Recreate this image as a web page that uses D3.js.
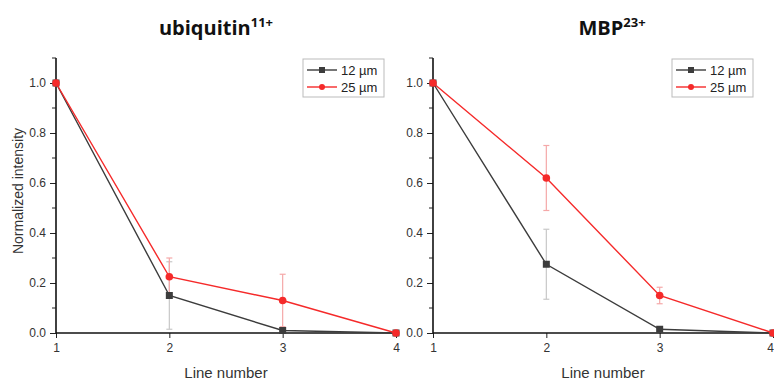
<!DOCTYPE html>
<html><head><meta charset="utf-8">
<script src="https://cdn.jsdelivr.net/npm/d3@7/dist/d3.min.js"></script>
<style>body{margin:0;background:#fff}</style>
</head><body>
<svg id="c" width="774" height="380"></svg>
<script>
const lines = [1, 2, 3, 4];
const yTicks = [0, 0.2, 0.4, 0.6, 0.8, 1.0];
const seriesNames = ["12 µm", "25 µm"];
const ubi12 = [1, 0.15, 0.01, 0];
const ubi12Err = [0, 0.135, 0.006, 0];
const ubi25 = [1, 0.225, 0.13, 0];
const ubi25Err = [0, 0.075, 0.105, 0];
const mbp12 = [1, 0.275, 0.015, 0];
const mbp12Err = [0, 0.14, 0.008, 0];
const mbp25 = [1, 0.62, 0.15, 0];
const mbp25Err = [0, 0.13, 0.033, 0];

const panels = [
  {title: "ubiquitin", sup: "11+", x0: 56, x1: 396, tx: 216, s12: ubi12, e12: ubi12Err, s25: ubi25, e25: ubi25Err, leg: 303, ylabel: true, lx: 226},
  {title: "MBP", sup: "23+", x0: 433, x1: 773, tx: 612, s12: mbp12, e12: mbp12Err, s25: mbp25, e25: mbp25Err, leg: 672, ylabel: false, lx: 603}
];
const svg = d3.select("#c");
const colors = {g: "#3c3c3c", r: "#f52a2a", ge: "#c8c8c8", re: "#f5a8a8"};
const font = "Liberation Sans, Arial, sans-serif";

panels.forEach((p, pi) => {
  const x = d3.scaleLinear().domain([1, 4]).range([p.x0, p.x1]);
  const y = d3.scaleLinear().domain([0, 1.1]).range([333, 58]);
  const g = svg.append("g");

  // title
  const t = g.append("text").attr("x", p.tx).attr("y", 35)
    .attr("text-anchor", "middle").attr("font-family", "Open Sans, sans-serif").attr("font-weight", "bold")
    .attr("font-size", 20).attr("fill", "#111");
  t.append("tspan").text(p.title);
  t.append("tspan").text(p.sup).attr("font-size", 13).attr("dy", -8);

  // y axis
  const ya = d3.axisLeft(y).tickValues(yTicks).tickSize(6).tickFormat(d3.format(".1f"));
  const yg = g.append("g").attr("transform", `translate(${p.x0},0)`).call(ya);
  yg.select(".domain").remove();
  yg.append("line").attr("x1", 0).attr("x2", 0).attr("y1", y(0)).attr("y2", y(1.1)).attr("stroke", "#111").attr("stroke-width", 1.6);
  yg.selectAll(".tick text").attr("font-family", font).attr("font-size", 12).attr("fill", "#333").attr("x", -10);
  yg.selectAll(".tick line").attr("stroke", "#222");
  const minor = d3.range(0.1, 1.11, 0.2);
  yg.selectAll(".minor").data(minor).enter().append("line")
    .attr("x1", -4).attr("x2", 0).attr("y1", d => y(d)).attr("y2", d => y(d)).attr("stroke", "#222");

  // x axis
  const xa = d3.axisBottom(x).tickValues(lines).tickSize(5).tickFormat(d3.format("d"));
  const xg = g.append("g").attr("transform", `translate(0,${y(0)})`).call(xa);
  xg.select(".domain").remove();
  xg.append("line").attr("x1", x(1)).attr("x2", x(4)).attr("stroke", "#111").attr("stroke-width", 1.6);
  xg.selectAll(".tick text").attr("font-family", font).attr("font-size", 12).attr("fill", "#333").attr("y", 10.5);
  if (pi === 1) xg.selectAll(".tick text").filter(d => d === 4).attr("x", -3);
  xg.selectAll(".tick line").attr("stroke", "#222");

  g.append("text").attr("x", p.lx).attr("y", 378).attr("text-anchor", "middle")
    .attr("font-family", font).attr("font-size", 15).attr("fill", "#333").text("Line number");
  if (p.ylabel) {
    g.append("text").attr("transform", `translate(23,191) rotate(-90)`).attr("text-anchor", "middle")
      .attr("font-family", font).attr("font-size", 14).attr("fill", "#333").text("Normalized intensity");
  }

  const series = [
    {v: p.s12, e: p.e12, c: colors.g, ec: colors.ge, shape: "sq"},
    {v: p.s25, e: p.e25, c: colors.r, ec: colors.re, shape: "ci"}
  ];
  series.forEach(s => {
    lines.forEach((l, i) => {
      if (s.e[i] <= 0) return;
      const lo = y(Math.max(0, s.v[i] - s.e[i])), hi = y(s.v[i] + s.e[i]);
      g.append("line").attr("x1", x(l)).attr("x2", x(l)).attr("y1", lo).attr("y2", hi).attr("stroke", s.ec).attr("stroke-width", 1.2);
      [lo, hi].forEach(yy => g.append("line").attr("x1", x(l) - 3).attr("x2", x(l) + 3).attr("y1", yy).attr("y2", yy).attr("stroke", s.ec).attr("stroke-width", 1.2));
    });
  });
  series.forEach(s => {
    const line = d3.line().x((d, i) => x(lines[i])).y(d => y(d));
    g.append("path").datum(s.v).attr("d", line).attr("fill", "none").attr("stroke", s.c).attr("stroke-width", 1.4);
    s.v.forEach((v, i) => {
      if (s.shape === "sq") g.append("rect").attr("x", x(lines[i]) - 3.5).attr("y", y(v) - 3.5).attr("width", 7).attr("height", 7).attr("fill", s.c);
      else g.append("circle").attr("cx", x(lines[i])).attr("cy", y(v)).attr("r", 3.8).attr("fill", s.c);
    });
  });

  // legend
  const lg = g.append("g").attr("transform", `translate(${p.leg},59)`);
  lg.append("rect").attr("width", 81).attr("height", 38).attr("fill", "#fff").attr("stroke", "#bbb");
  series.forEach((s, i) => {
    const yy = 11 + i * 17;
    lg.append("line").attr("x1", 4).attr("x2", 34).attr("y1", yy).attr("y2", yy).attr("stroke", s.c).attr("stroke-width", 1.4);
    if (s.shape === "sq") lg.append("rect").attr("x", 16).attr("y", yy - 3).attr("width", 6).attr("height", 6).attr("fill", s.c);
    else lg.append("circle").attr("cx", 19).attr("cy", yy).attr("r", 3).attr("fill", s.c);
    lg.append("text").attr("x", 38).attr("y", yy + 4.5).attr("font-family", font).attr("font-size", 13).attr("fill", "#222").text(seriesNames[i]);
  });
});
</script>
</body></html>
